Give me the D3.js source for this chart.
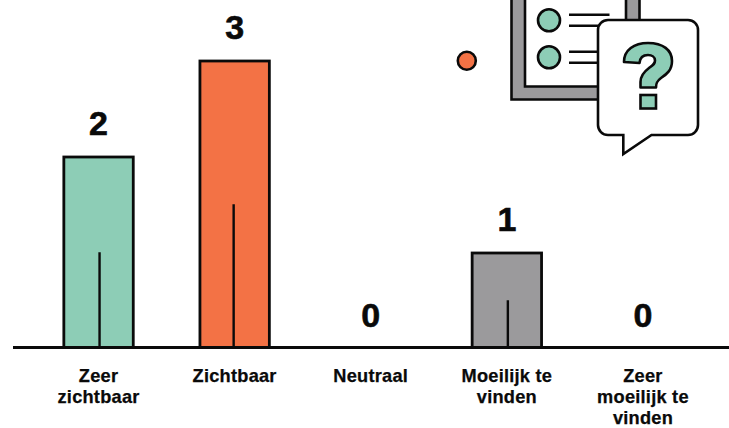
<!DOCTYPE html>
<html><head><meta charset="utf-8">
<script src="https://cdn.jsdelivr.net/npm/d3@7"></script>
<style>html,body{margin:0;padding:0;background:#fff}svg{display:block}text{font-family:"Liberation Sans",Arial,sans-serif;font-weight:700;fill:#0a0a0a;stroke:#0a0a0a}</style>
</head><body><div id="chart"></div>
<script>
const categories = ["Zeer zichtbaar","Zichtbaar","Neutraal","Moeilijk te vinden","Zeer moeilijk te vinden"];
const categoryLines = [["Zeer","zichtbaar"],["Zichtbaar"],["Neutraal"],["Moeilijk te","vinden"],["Zeer","moeilijk te","vinden"]];
const values = [2,3,0,1,0];
const colors = ["#8dcdb6","#f37245","#8dcdb6","#9b9a9c","#8dcdb6"];
const stemNudge = [1,-1,0,1,0];
const ink = "#0a0a0a";
const W=729,H=428,axisY=347.5;
const svg=d3.select("#chart").append("svg").attr("width",W).attr("height",H);
const x=d3.scaleBand().domain(categories).range([30.5,711]).paddingInner(0.49).paddingOuter(0.245);
const y=d3.scaleLinear().domain([0,3]).range([349,61]);
const bars=svg.append("g");
categories.forEach((c,i)=>{
  const v=values[i], cx=x(c)+x.bandwidth()/2;
  if(v>0){
    bars.append("rect").attr("x",x(c)).attr("y",y(v)).attr("width",x.bandwidth()).attr("height",axisY-y(v))
      .attr("fill",colors[i]).attr("stroke",ink).attr("stroke-width",2.8);
    bars.append("line").attr("x1",cx+stemNudge[i]).attr("x2",cx+stemNudge[i])
      .attr("y1",axisY).attr("y2",(axisY+y(v))/2).attr("stroke",ink).attr("stroke-width",2.4);
  }
  svg.append("text").attr("x",cx).attr("y",y(v)-22).attr("text-anchor","middle")
    .attr("font-size",34).attr("stroke-width",0.6).text(v);
  const t=svg.append("text").attr("text-anchor","middle").attr("font-size",18.2).attr("letter-spacing",0.25).attr("stroke-width",0.25);
  categoryLines[i].forEach((l,j)=>t.append("tspan").attr("x",cx).attr("y",381.7+j*21.2).text(l));
});
svg.append("line").attr("x1",13).attr("x2",W).attr("y1",axisY).attr("y2",axisY).attr("stroke",ink).attr("stroke-width",2.8);

// decorative illustration
const ic=svg.append("g").attr("stroke",ink).attr("stroke-width",2.6);
ic.append("circle").attr("cx",466.8).attr("cy",60.7).attr("r",9).attr("fill","#f37245");
ic.append("path").attr("fill","#9b9a9c").attr("fill-rule","evenodd")
  .attr("d","M511.5,-5H639.5V99.5H511.5Z M525,-5V86.5H626V-5Z");
ic.append("circle").attr("cx",549).attr("cy",20.3).attr("r",11).attr("fill","#8dcdb6");
ic.append("circle").attr("cx",549).attr("cy",57.3).attr("r",11).attr("fill","#8dcdb6");
[14.7,25.7,51.7,62.7].forEach(v=>ic.append("line").attr("x1",569).attr("x2",609.5).attr("y1",v).attr("y2",v));
ic.append("path").attr("fill","#fff")
  .attr("d","M608,20H688A10,10 0 0 1 698,30V125A10,10 0 0 1 688,135H651.5L623.3,154V135H608A10,10 0 0 1 598,125V30A10,10 0 0 1 608,20Z");
ic.append("path").attr("fill","#8dcdb6").attr("stroke-linejoin","round")
  .attr("d","M624,62C624,50 634,43 648,43C663,43 672,50 672,61C672,70 667,74 661,78C657,81 656,83 656,87.5H640.5V82C640.5,75 645,71 649,68C653,65 655,64 655,60.5C655,57 652,55 648,55C644,55 640,57 639.5,63Z");
ic.append("rect").attr("x",640.5).attr("y",95).attr("width",15.5).attr("height",13.5).attr("fill","#8dcdb6");
</script></body></html>
